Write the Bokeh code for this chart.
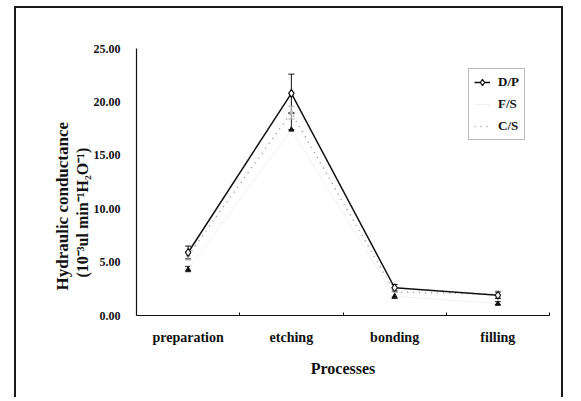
from bokeh.plotting import figure
from bokeh.models import (Range1d, FixedTicker, ColumnDataSource, Whisker, Title,
                          Legend, LegendItem, InlineStyleSheet, NumeralTickFormatter, TeeHead)
from bokeh.embed import file_html
from bokeh.resources import INLINE

# ---- data ----
processes = ["preparation", "etching", "bonding", "filling"]
dp = [5.9, 20.8, 2.6, 1.9]
dp_err = [0.6, 1.8, 0.3, 0.3]
fs = [4.3, 17.4, 1.8, 1.1]
fs_err_lo = [0.2, 0.0, 0.2, 0.1]
fs_err_hi = [0.3, 1.5, 0.4, 0.2]
cs = [5.6, 19.0, 2.2, 2.0]
cs_err = [0.4, 0.6, 0.4, 0.3]
y_ticks = [0, 5, 10, 15, 20, 25]
series_names = ["D/P", "F/S", "C/S"]
y_title_1 = "Hydraulic conductance"
y_title_2 = "(10\u207b\u00b3ul min\u207b\u00b9H\u2082O\u207b\u00b9)"
x_title = "Processes"

FONT = "Liberation Serif"
xs = [i + 0.5 for i in range(len(processes))]

p = figure(width=549, height=391, x_range=Range1d(0, len(processes)), y_range=Range1d(0, 25),
           output_backend="svg", toolbar_location=None,
           min_border_left=120, min_border_right=16, min_border_top=40, min_border_bottom=84)
p.stylesheets = [InlineStyleSheet(css=":host { border-left: 2px solid #1a1a1a; border-top: 2px solid #1a1a1a; border-right: 2px solid #1a1a1a; margin-left: 14px; margin-top: 6px; }")]
p.outline_line_color = None
p.xgrid.visible = False
p.ygrid.visible = False
p.background_fill_color = "white"
p.border_fill_color = "white"

# x axis
xa = p.xaxis[0]
xa.ticker = FixedTicker(ticks=xs, minor_ticks=list(range(0, len(processes) + 1)))
xa.major_label_overrides = {x: name for x, name in zip(xs, processes)}
xa.major_tick_in = 0
xa.major_tick_out = 0
xa.minor_tick_in = 3
xa.minor_tick_out = 0
xa.major_label_standoff = 14
xa.major_label_text_font = FONT
xa.major_label_text_font_style = "bold"
xa.major_label_text_font_size = "14px"
xa.major_label_text_color = "#111"
xa.axis_label = x_title
xa.axis_label_text_font = FONT
xa.axis_label_text_font_style = "bold"
xa.axis_label_text_font_size = "16px"
xa.axis_label_text_color = "#111"
xa.axis_label_standoff = 12
xa.axis_line_color = "#111"
xa.axis_line_width = 1.2

# y axis
ya = p.yaxis[0]
ya.ticker = FixedTicker(ticks=y_ticks)
ya.formatter = NumeralTickFormatter(format="0.00")
ya.major_tick_in = 0
ya.major_tick_out = 0
ya.minor_tick_in = 0
ya.minor_tick_out = 0
ya.major_label_standoff = 16
ya.major_label_text_font = FONT
ya.major_label_text_font_style = "bold"
ya.major_label_text_font_size = "12px"
ya.major_label_text_color = "#111"
ya.axis_line_color = "#111"
ya.axis_line_width = 1.2

# y axis title: two left-side titles (inner line first)
for txt, sz, off in [(y_title_2, "16px", 38), (y_title_1, "17px", 25)]:
    t = Title(text=txt, align="left", offset=off, standoff=0,
              text_font=FONT, text_font_style="bold", text_font_size=sz, text_color="#111")
    p.add_layout(t, "left")

# series
src = ColumnDataSource(dict(
    x=xs, dp=dp, fs=fs, cs=cs,
    dp_lo=[v - e for v, e in zip(dp, dp_err)], dp_hi=[v + e for v, e in zip(dp, dp_err)],
    fs_lo=[v - e for v, e in zip(fs, fs_err_lo)], fs_hi=[v + e for v, e in zip(fs, fs_err_hi)],
    cs_lo=[v - e for v, e in zip(cs, cs_err)], cs_hi=[v + e for v, e in zip(cs, cs_err)],
))

cs_line = p.line("x", "cs", source=src, line_color="#9a9a9a", line_width=1.5, line_dash="1 5")
cs_pts = p.scatter("x", "cs", source=src, marker="circle", size=3, fill_color="#bbbbbb", line_color="#bbbbbb")
fs_line = p.line("x", "fs", source=src, line_color="#f0f0f0", line_width=1)
fs_pts = p.scatter("x", "fs", source=src, marker="triangle", size=5, fill_color="#111", line_color="#111")
dp_line = p.line("x", "dp", source=src, line_color="#111", line_width=1.5)
dp_pts = p.scatter("x", "dp", source=src, marker="diamond", size=8, fill_color="white", line_color="#111", line_width=1.2)

for lo, hi, col in [("dp_lo", "dp_hi", "#111"), ("fs_lo", "fs_hi", "#222"), ("cs_lo", "cs_hi", "#aaaaaa")]:
    w = Whisker(base="x", lower=lo, upper=hi, source=src, line_color=col, line_width=1,
                upper_head=TeeHead(size=6, line_color=col), lower_head=TeeHead(size=6, line_color=col))
    p.add_layout(w)

legend = Legend(items=[
    LegendItem(label=series_names[0], renderers=[dp_line, dp_pts]),
    LegendItem(label=series_names[1], renderers=[fs_line]),
    LegendItem(label=series_names[2], renderers=[cs_line]),
], location=(332, 175))
legend.label_text_font = FONT
legend.label_text_font_style = "bold"
legend.label_text_font_size = "13px"
legend.label_text_color = "#111"
legend.glyph_width = 16
legend.glyph_height = 16
legend.label_height = 16
legend.label_standoff = 8
legend.spacing = 6
legend.padding = 5
legend.margin = 0
legend.border_line_color = "#777"
legend.border_line_width = 1
legend.background_fill_alpha = 0
p.add_layout(legend)

open("out.html", "w").write(file_html(p, INLINE))
